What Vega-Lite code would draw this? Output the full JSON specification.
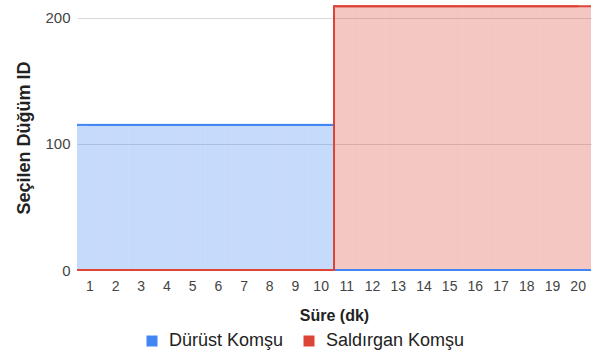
{
  "$schema": "https://vega.github.io/schema/vega-lite/v6.json",
  "width": 514,
  "height": 265,
  "autosize": {"type": "none"},
  "padding": {"left": 77, "top": 5, "right": 4, "bottom": 88},
  "background": "#ffffff",
  "config": {
    "font": "Liberation Sans",
    "view": {"stroke": null},
    "axis": {
      "labelFont": "Liberation Sans",
      "titleFont": "Liberation Sans",
      "labelColor": "#444444",
      "titleColor": "#222222",
      "titleFontWeight": "bold",
      "domain": false,
      "ticks": false
    },
    "legend": {
      "labelFont": "Liberation Sans",
      "labelColor": "#222222"
    }
  },
  "data": {
    "values": [
      {"dk": 1, "seri": "Dürüst Komşu", "id": 115},
      {"dk": 2, "seri": "Dürüst Komşu", "id": 115},
      {"dk": 3, "seri": "Dürüst Komşu", "id": 115},
      {"dk": 4, "seri": "Dürüst Komşu", "id": 115},
      {"dk": 5, "seri": "Dürüst Komşu", "id": 115},
      {"dk": 6, "seri": "Dürüst Komşu", "id": 115},
      {"dk": 7, "seri": "Dürüst Komşu", "id": 115},
      {"dk": 8, "seri": "Dürüst Komşu", "id": 115},
      {"dk": 9, "seri": "Dürüst Komşu", "id": 115},
      {"dk": 10, "seri": "Dürüst Komşu", "id": 115},
      {"dk": 11, "seri": "Dürüst Komşu", "id": 0},
      {"dk": 12, "seri": "Dürüst Komşu", "id": 0},
      {"dk": 13, "seri": "Dürüst Komşu", "id": 0},
      {"dk": 14, "seri": "Dürüst Komşu", "id": 0},
      {"dk": 15, "seri": "Dürüst Komşu", "id": 0},
      {"dk": 16, "seri": "Dürüst Komşu", "id": 0},
      {"dk": 17, "seri": "Dürüst Komşu", "id": 0},
      {"dk": 18, "seri": "Dürüst Komşu", "id": 0},
      {"dk": 19, "seri": "Dürüst Komşu", "id": 0},
      {"dk": 20, "seri": "Dürüst Komşu", "id": 0},
      {"dk": 1, "seri": "Saldırgan Komşu", "id": 0},
      {"dk": 2, "seri": "Saldırgan Komşu", "id": 0},
      {"dk": 3, "seri": "Saldırgan Komşu", "id": 0},
      {"dk": 4, "seri": "Saldırgan Komşu", "id": 0},
      {"dk": 5, "seri": "Saldırgan Komşu", "id": 0},
      {"dk": 6, "seri": "Saldırgan Komşu", "id": 0},
      {"dk": 7, "seri": "Saldırgan Komşu", "id": 0},
      {"dk": 8, "seri": "Saldırgan Komşu", "id": 0},
      {"dk": 9, "seri": "Saldırgan Komşu", "id": 0},
      {"dk": 10, "seri": "Saldırgan Komşu", "id": 0},
      {"dk": 11, "seri": "Saldırgan Komşu", "id": 209},
      {"dk": 12, "seri": "Saldırgan Komşu", "id": 209},
      {"dk": 13, "seri": "Saldırgan Komşu", "id": 209},
      {"dk": 14, "seri": "Saldırgan Komşu", "id": 209},
      {"dk": 15, "seri": "Saldırgan Komşu", "id": 209},
      {"dk": 16, "seri": "Saldırgan Komşu", "id": 209},
      {"dk": 17, "seri": "Saldırgan Komşu", "id": 209},
      {"dk": 18, "seri": "Saldırgan Komşu", "id": 209},
      {"dk": 19, "seri": "Saldırgan Komşu", "id": 209},
      {"dk": 20, "seri": "Saldırgan Komşu", "id": 209}
    ]
  },
  "encoding": {
    "x": {
      "field": "dk",
      "type": "ordinal",
      "scale": {"paddingInner": 0, "paddingOuter": 0},
      "axis": {
        "title": "Süre (dk)",
        "labelAngle": 0,
        "labelFontSize": 14,
        "labelPadding": 9,
        "titleFontSize": 16,
        "titlePadding": 14
      }
    },
    "y": {
      "field": "id",
      "type": "quantitative",
      "scale": {"domain": [0, 210], "nice": false},
      "axis": {
        "title": "Seçilen Düğüm ID",
        "values": [0, 100, 200],
        "labelFontSize": 15,
        "labelPadding": 7,
        "titleFontSize": 18,
        "titlePadding": 11,
        "gridColor": "#d9d9d9"
      }
    },
    "color": {
      "field": "seri",
      "type": "nominal",
      "scale": {
        "domain": ["Dürüst Komşu", "Saldırgan Komşu"],
        "range": ["#4285F4", "#DB4437"]
      },
      "legend": {
        "title": null,
        "orient": "none",
        "direction": "horizontal",
        "legendX": 66,
        "legendY": 327,
        "labelFontSize": 18,
        "symbolType": "square",
        "symbolSize": 121,
        "symbolOpacity": 1,
        "symbolStrokeWidth": 0,
        "labelOffset": 8,
        "columnPadding": 16
      }
    }
  },
  "layer": [
    {
      "mark": {"type": "bar", "fillOpacity": 0.3, "strokeWidth": 0}
    },
    {
      "mark": {"type": "rule", "strokeWidth": 2, "strokeCap": "butt"},
      "encoding": {
        "x": {"field": "dk", "type": "ordinal", "bandPosition": 0},
        "x2": {"field": "dk", "bandPosition": 1}
      }
    },
    {
      "mark": {"type": "line", "interpolate": "step", "strokeWidth": 2},
      "encoding": {"order": {"field": "dk"}}
    }
  ]
}
